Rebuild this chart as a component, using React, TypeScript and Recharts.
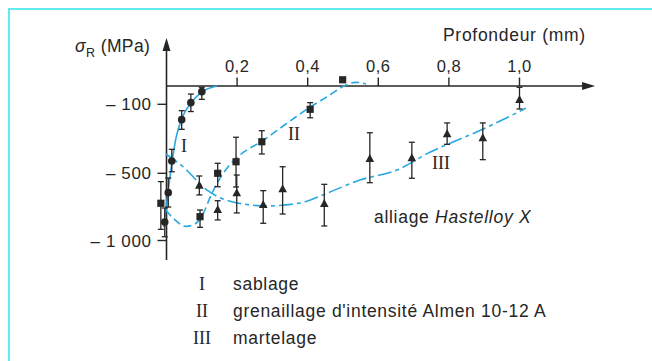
import React from "react"
import {
  ComposedChart,
  Line,
  Scatter,
  ErrorBar,
  XAxis,
  YAxis,
  ReferenceLine,
  ReferenceDot,
} from "recharts"

// depth in mm, residual stress in MPa
const sablageX = [-0.005, 0.005, 0.015, 0.043, 0.069, 0.1]
const sablageY = [-862, -644, -429, -189, -91, -31]
const sablageLow = [-972, -751, -491, -245, -142, -73]
const sablageHigh = [-758, -535, -361, -137, -44, -7]

const grenX = [-0.016, 0.095, 0.145, 0.197, 0.27, 0.407, 0.499]
const grenY = [-723, -823, -500, -433, -317, -129, 34]
const grenLow = [-917, -902, -600, -602, -388, -178, null]
const grenHigh = [-562, -773, -442, -291, -253, -91, null]

const martX = [0.093, 0.145, 0.199, 0.274, 0.329, 0.447, 0.576, 0.695, 0.795, 0.896, 1.0]
const martY = [-592, -773, -649, -736, -619, -728, -417, -413, -274, -297, -77]
const martLow = [-661, -847, -795, -872, -803, -892, -570, -537, -332, -421, -127]
const martHigh = [-520, -704, -513, -629, -462, -582, -265, -320, -208, -208, -7]

// fitted curves
const curveIX = [-0.008, 0.004, 0.016, 0.027, 0.044, 0.069, 0.1, 0.143]
const curveIY = [-900, -647, -429, -295, -179, -93, -33, 0]
const curveIIX = [-0.002, 0.024, 0.055, 0.081, 0.103, 0.129, 0.152, 0.174, 0.208, 0.271, 0.35, 0.407, 0.463, 0.503, 0.537, 0.565]
const curveIIY = [-773, -847, -895, -877, -803, -647, -535, -463, -394, -313, -197, -116, -49, 0, 20, 11]
const curveIIIX = [-0.002, 0.047, 0.114, 0.188, 0.285, 0.378, 0.463, 0.548, 0.653, 0.746, 0.888, 1.018]
const curveIIIY = [-388, -462, -624, -713, -743, -721, -639, -550, -481, -378, -252, -123]

const X_TICKS = [0.2, 0.4, 0.6, 0.8, 1.0]
const X_TICK_LABELS = ["0,2", "0,4", "0,6", "0,8", "1,0"]
const Y_TICKS = [-100, -500, -1000]
const Y_TICK_LABELS = ["\u2013 100", "\u2013 500", "\u2013 1 000"]

const LEGEND_NUMS = ["I", "II", "III"]
const LEGEND_TEXT = ["sablage", "grenaillage d'intensit\u00e9 Almen 10-12 A", "martelage"]

// the printed stress axis is not uniform: breakpoints and their axis positions
const Y_BREAKS = [0, -100, -500, -1000]
const Y_BREAK_POS = [0, -18.3, -87.3, -154.5]
const X_AXIS_END = 1.214
const Y_AXIS_RANGE = [-1145, 262]

function toAxis(v: number): number {
  if (v >= 0) return (v * (Y_BREAK_POS[1] - Y_BREAK_POS[0])) / (Y_BREAKS[1] - Y_BREAKS[0])
  for (let i = 1; i < Y_BREAKS.length; i++) {
    if (v >= Y_BREAKS[i] || i === Y_BREAKS.length - 1) {
      const t = (v - Y_BREAKS[i - 1]) / (Y_BREAKS[i] - Y_BREAKS[i - 1])
      return Y_BREAK_POS[i - 1] + t * (Y_BREAK_POS[i] - Y_BREAK_POS[i - 1])
    }
  }
  return 0
}

function points(xs: number[], ys: number[], lows?: (number | null)[], highs?: (number | null)[]) {
  return xs.map((x, i) => {
    const y = toAxis(ys[i])
    const lo = lows ? lows[i] : null
    const hi = highs ? highs[i] : null
    return {
      x,
      y,
      err: lo == null || hi == null ? null : [y - toAxis(lo), toAxis(hi) - y],
    }
  })
}

const sablage = points(sablageX, sablageY, sablageLow, sablageHigh)
const grenaillage = points(grenX, grenY, grenLow, grenHigh)
const martelage = points(martX, martY, martLow, martHigh)
const curveI = points(curveIX, curveIY)
const curveII = points(curveIIX, curveIIY)
const curveIII = points(curveIIIX, curveIIIY)

const INK = "#262626"
const CYAN = "#27a8e0"
const SANS = "'Liberation Sans', Arial, sans-serif"
const SERIF = "'Liberation Serif', 'Times New Roman', serif"

function ArrowLine(p: any) {
  const { x1, y1, x2, y2 } = p
  const dx = x2 - x1
  const dy = y2 - y1
  const len = Math.hypot(dx, dy) || 1
  const ux = dx / len
  const uy = dy / len
  const hl = 13
  const hw = 4
  const bx = x2 - ux * hl
  const by = y2 - uy * hl
  return (
    <g>
      <line x1={x1} y1={y1} x2={bx + ux * 2} y2={by + uy * 2} stroke={INK} strokeWidth={1.6} />
      <polygon
        points={`${x2},${y2} ${bx - uy * hw},${by + ux * hw} ${bx + uy * hw},${by - ux * hw}`}
        fill={INK}
      />
    </g>
  )
}

const Circle = (p: any) => <circle cx={p.cx} cy={p.cy} r={3.8} fill={INK} />
const Square = (p: any) => <rect x={p.cx - 3.6} y={p.cy - 3.6} width={7.2} height={7.2} fill={INK} />
const Triangle = (p: any) => (
  <polygon points={`${p.cx},${p.cy - 5} ${p.cx - 4.3},${p.cy + 3} ${p.cx + 4.3},${p.cy + 3}`} fill={INK} />
)

const labelStyle = { fontFamily: SANS, fontSize: 17.5, letterSpacing: 0.7, fill: INK }

export default function App() {
  return (
    <div style={{ position: "absolute", left: 0, top: 0, width: 652, height: 361, background: "#fff" }}>
      <ComposedChart
        width={652}
        height={361}
        margin={{ top: 36, right: 26.6, bottom: 85, left: 60.6 }}
      >
        <XAxis type="number" dataKey="x" domain={[-0.3, 1.3]} hide />
        <YAxis type="number" dataKey="y" domain={[-190, 50]} hide />

        <ReferenceLine
          segment={[{ x: 0, y: 0 }, { x: X_AXIS_END, y: 0 }]}
          shape={ArrowLine}
        />
        <ReferenceLine
          segment={[{ x: 0, y: toAxis(Y_AXIS_RANGE[0]) }, { x: 0, y: toAxis(Y_AXIS_RANGE[1]) }]}
          shape={ArrowLine}
        />
        {X_TICKS.map((t, i) => (
          <ReferenceDot
            key={`xt${t}`}
            x={t}
            y={0}
            shape={(p: any) => (
              <g>
                <line x1={p.cx} y1={p.cy} x2={p.cx} y2={p.cy - 8.5} stroke={INK} strokeWidth={1.4} />
                <text x={p.cx} y={p.cy - 14} textAnchor="middle" fontFamily={SANS} fontSize={16.5} letterSpacing={0.5} fill={INK}>
                  {X_TICK_LABELS[i]}
                </text>
              </g>
            )}
          />
        ))}
        {Y_TICKS.map((t, i) => (
          <ReferenceDot
            key={`yt${t}`}
            x={0}
            y={toAxis(t)}
            shape={(p: any) => (
              <g>
                <line x1={p.cx - 9} y1={p.cy} x2={p.cx} y2={p.cy} stroke={INK} strokeWidth={1.4} />
                <text x={p.cx - 15} y={p.cy + 6} textAnchor="end" fontFamily={SANS} fontSize={17} letterSpacing={0.6} fill={INK}>
                  {Y_TICK_LABELS[i]}
                </text>
              </g>
            )}
          />
        ))}

        <Line
          data={curveI}
          dataKey="y"
          type="monotone"
          stroke={CYAN}
          strokeWidth={1.6}
          dot={false}
          isAnimationActive={false}
        />
        <Line
          data={curveII}
          dataKey="y"
          type="monotone"
          stroke={CYAN}
          strokeWidth={1.6}
          strokeDasharray="8 4"
          dot={false}
          isAnimationActive={false}
        />
        <Line
          data={curveIII}
          dataKey="y"
          type="monotone"
          stroke={CYAN}
          strokeWidth={1.6}
          strokeDasharray="14 4 4 4"
          dot={false}
          isAnimationActive={false}
        />

        <Scatter data={sablage} shape={Circle} isAnimationActive={false}>
          <ErrorBar dataKey="err" direction="y" width={3} stroke={INK} strokeWidth={1.3} isAnimationActive={false} />
        </Scatter>
        <Scatter data={grenaillage} shape={Square} isAnimationActive={false}>
          <ErrorBar dataKey="err" direction="y" width={3} stroke={INK} strokeWidth={1.3} isAnimationActive={false} />
        </Scatter>
        <Scatter data={martelage} shape={Triangle} isAnimationActive={false}>
          <ErrorBar dataKey="err" direction="y" width={3} stroke={INK} strokeWidth={1.3} isAnimationActive={false} />
        </Scatter>
      </ComposedChart>

      <svg
        width={652}
        height={361}
        style={{ position: "absolute", left: 0, top: 0, pointerEvents: "none" }}
      >
        <line x1={8} y1={9} x2={652} y2={9} stroke="#62eaee" strokeWidth={2} />
        <line x1={9} y1={8} x2={9} y2={361} stroke="#62eaee" strokeWidth={2} />

        <text x={75} y={52} {...labelStyle} letterSpacing={0.4}>
          <tspan fontStyle="italic">{"\u03c3"}</tspan>
          <tspan fontSize={12.5} dy={5}>R</tspan>
          <tspan dy={-5}> (MPa)</tspan>
        </text>
        <text x={443} y={41} {...labelStyle}>
          Profondeur (mm)
        </text>

        <text x={184} y={152} textAnchor="middle" fontFamily={SERIF} fontSize={18} fill={INK}>I</text>
        <text x={294} y={140} textAnchor="middle" fontFamily={SERIF} fontSize={18} fill={INK}>II</text>
        <text x={441} y={169} textAnchor="middle" fontFamily={SERIF} fontSize={18} fill={INK}>III</text>

        <text x={374} y={223} {...labelStyle}>
          alliage <tspan fontStyle="italic">Hastelloy X</tspan>
        </text>

        {LEGEND_NUMS.map((n, i) => (
          <g key={n}>
            <text x={202} y={290 + i * 27} textAnchor="middle" fontFamily={SERIF} fontSize={18} fill={INK}>
              {n}
            </text>
            <text x={233} y={290 + i * 27} {...labelStyle}>
              {LEGEND_TEXT[i]}
            </text>
          </g>
        ))}
      </svg>
    </div>
  )
}
